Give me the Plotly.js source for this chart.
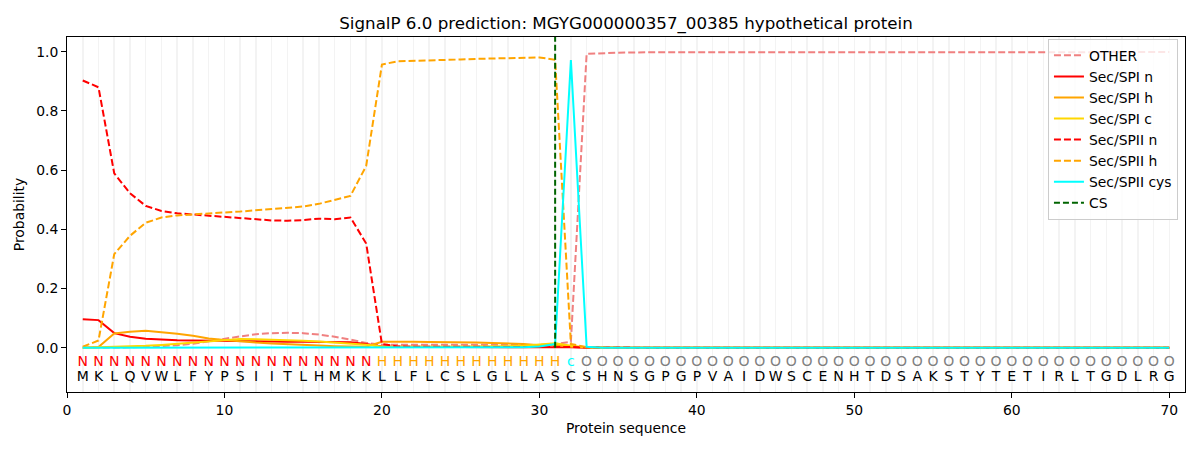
<!DOCTYPE html>
<html>
<head>
<meta charset="utf-8">
<script src="https://cdn.plot.ly/plotly-3.0.1.min.js"></script>
<style>html,body{margin:0;padding:0;background:#fff;}#chart{width:1200px;height:450px;}</style>
</head>
<body>
<div id="chart"></div>
<script>
const sequence = "MKLQVWLFYPSIITLHMKKLLFLCSLGLLASCSHNSGPGPVAIDWSCENHTDSAKSTYTETIRLTGDLRG".split("");
const regionLabels = "NNNNNNNNNNNNNNNNNNNHHHHHHHHHHHHcOOOOOOOOOOOOOOOOOOOOOOOOOOOOOOOOOOOOOO".split("");
const positions = sequence.map((_, i) => i + 1);
const csPosition = 31;

function pad(arr, fill) { const out = arr.slice(); while (out.length < 70) out.push(fill); return out; }

const other = pad([0.0,0.0,0.0,0.001,0.003,0.005,0.008,0.013,0.022,0.030,
  0.038,0.045,0.049,0.050,0.049,0.044,0.037,0.027,0.016,0.010,
  0.010,0.009,0.009,0.008,0.008,0.008,0.008,0.008,0.008,0.009,
  0.012,0.020,0.993,0.996,0.997,0.998,0.998,0.999], 0.999);
const spiN = pad([0.096,0.093,0.049,0.037,0.030,0.027,0.025,0.024,0.023,0.022,
  0.022,0.021,0.021,0.020,0.020,0.019,0.019,0.018,0.012,0.004,
  0.003,0.002,0.002,0.002,0.002,0.002,0.002,0.002,0.002,0.002,
  0.003,0.001,0.0], 0.0);
const spiH = pad([0.0,0.002,0.048,0.054,0.057,0.053,0.047,0.040,0.031,0.026,
  0.021,0.017,0.014,0.011,0.009,0.007,0.005,0.004,0.003,0.020,
  0.021,0.020,0.019,0.019,0.018,0.017,0.016,0.015,0.012,0.008,
  0.010,0.003,0.001], 0.0);
const spiC = pad([0.0,0.001,0.002,0.004,0.006,0.009,0.013,0.018,0.023,0.027,
  0.029,0.028,0.027,0.025,0.023,0.021,0.018,0.014,0.010,0.004,
  0.003,0.003,0.003,0.003,0.003,0.004,0.004,0.005,0.006,0.010,
  0.015,0.006,0.001], 0.0);
const spiiN = pad([0.903,0.880,0.589,0.522,0.479,0.462,0.454,0.450,0.446,0.441,
  0.437,0.433,0.430,0.429,0.431,0.436,0.434,0.440,0.352,0.012,
  0.004,0.003,0.003,0.003,0.003,0.003,0.003,0.003,0.003,0.003,
  0.004,0.002,0.001], 0.0);
const spiiH = pad([0.003,0.024,0.316,0.378,0.422,0.440,0.447,0.451,0.454,0.457,
  0.460,0.464,0.468,0.473,0.477,0.486,0.500,0.513,0.614,0.957,
  0.968,0.969,0.970,0.972,0.974,0.976,0.977,0.979,0.980,0.981,
  0.973,0.012,0.002], 0.0);
const spiiCys = pad([0,0,0,0,0,0,0,0,0,0,
  0,0,0,0,0,0,0,0,0,0,
  0,0,0,0,0,0,0,0,0.001,0.004,
  0.012,0.972,0.003], 0.0);

const labelColors = {N: "#ff0000", H: "#ffa500", c: "#00ffff", O: "#808080"};
const yMin = -0.15, yMax = 1.05;
const font = "DejaVu Sans, Liberation Sans, sans-serif";

function line(name, y, color, dash) {
  return {x: positions, y: y, name: name, mode: "lines", type: "scatter",
    line: {color: color, width: 2, dash: dash || "solid"}, hoverinfo: "skip"};
}
const dashed = "7px,3px";
const traces = [
  line("OTHER", other, "#f08080", dashed),
  line("Sec/SPI n", spiN, "#ff0000"),
  line("Sec/SPI h", spiH, "#ffa500"),
  line("Sec/SPI c", spiC, "#ffd700"),
  line("Sec/SPII n", spiiN, "#ff0000", dashed),
  line("Sec/SPII h", spiiH, "#ffa500", dashed),
  line("Sec/SPII cys", spiiCys, "#00ffff"),
  {x: [csPosition, csPosition], y: [0, yMax], name: "CS", mode: "lines", type: "scatter",
    line: {color: "#006400", width: 2, dash: "6px,3px"}, hoverinfo: "skip"},
  {x: positions, y: positions.map(() => -0.05), text: regionLabels, mode: "text", type: "scatter",
    showlegend: false, cliponaxis: false, hoverinfo: "skip",
    textfont: {family: font, size: 14, color: regionLabels.map(l => labelColors[l])}},
  {x: positions, y: positions.map(() => -0.10), text: sequence, mode: "text", type: "scatter",
    showlegend: false, cliponaxis: false, hoverinfo: "skip",
    textfont: {family: font, size: 14, color: "#000000"}}
];

const layout = {
  width: 1200, height: 450,
  margin: {l: 67, r: 15, t: 37, b: 58},
  paper_bgcolor: "#ffffff", plot_bgcolor: "#ffffff",
  font: {family: font, size: 13.9, color: "#000000"},
  title: {text: "SignalP 6.0 prediction: MGYG000000357_00385 hypothetical protein",
    font: {family: font, size: 16.7, color: "#000000"},
    x: 0.5, xref: "paper", xanchor: "center", y: 1 - 23/450, yref: "container", yanchor: "middle"},
  xaxis: {range: [0, 71], tickvals: [0,10,20,30,40,50,60,70], ticks: "outside", ticklen: 5,
    tickcolor: "#000", showline: true, mirror: true, linecolor: "#000", linewidth: 1,
    zeroline: false, showgrid: true, gridcolor: "#f3f3f3", gridwidth: 1.5,
    minor: {dtick: 1, tick0: 0, showgrid: true, gridcolor: "#f3f3f3", gridwidth: 1.5, ticks: ""},
    title: {text: "Protein sequence", font: {family: font, size: 13.9}, standoff: 6}},
  yaxis: {range: [yMin, yMax], tickvals: [0,0.2,0.4,0.6,0.8,1.0], tickformat: ".1f",
    ticks: "outside", ticklen: 5, tickcolor: "#000", showline: true, mirror: true,
    linecolor: "#000", linewidth: 1, zeroline: false, showgrid: false,
    title: {text: "Probability", font: {family: font, size: 13.9}, standoff: 8}},
  legend: {x: 0.9937, xanchor: "right", y: 0.995, yanchor: "top",
    bgcolor: "rgba(255,255,255,0.8)", bordercolor: "#cccccc", borderwidth: 1,
    font: {family: font, size: 13.9}, itemwidth: 30, tracegroupgap: 0},
  showlegend: true
};

Plotly.newPlot("chart", traces, layout, {displayModeBar: false, staticPlot: true});
</script>
</body>
</html>
